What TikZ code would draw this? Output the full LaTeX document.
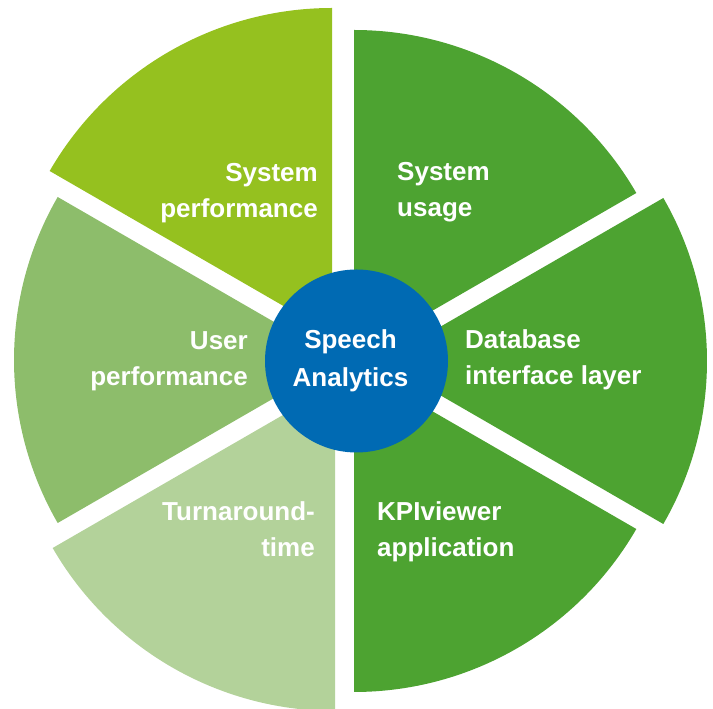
\documentclass[tikz,border=0pt]{standalone}
\usepackage{fontspec}
\setmainfont{Liberation Sans}
\definecolor{cSysPerf}{HTML}{95C11F}
\definecolor{cGreen}{HTML}{4DA331}
\definecolor{cUser}{HTML}{8DBD6B}
\definecolor{cTurn}{HTML}{B3D29A}
\definecolor{cBlue}{HTML}{006AB3}
\tikzset{
  sector/.style={draw=none},
  lbl/.style={text=white, inner sep=0pt, font={\fontsize{26pt}{36.5pt}\selectfont\bfseries}},
  hub/.style={circle, fill=cBlue, minimum size=183pt, inner sep=0pt, text=white, align=center,
    font={\fontsize{26pt}{38pt}\selectfont\bfseries}}
}
\begin{document}
\begin{tikzpicture}[x=1pt,y=1pt]
\useasboundingbox (0,0) rectangle (713,709);
\def\R{326}
% sectors
\fill[sector, cSysPerf] (332,375) -- ++(90:\R) arc[start angle=90, end angle=150, radius=\R] -- cycle;
\fill[sector, cGreen] (354,353) -- ++(30:\R) arc[start angle=30, end angle=90, radius=\R] -- cycle;
\fill[sector, cGreen] (381,348) -- ++(-30:\R) arc[start angle=-30, end angle=30, radius=\R] -- cycle;
\fill[sector, cGreen] (354,343) -- ++(-90:\R) arc[start angle=-90, end angle=-30, radius=\R] -- cycle;
\fill[sector, cTurn] (335,324) -- ++(-150:\R) arc[start angle=-150, end angle=-90, radius=\R] -- cycle;
\fill[sector, cUser] (340,349) -- ++(150:\R) arc[start angle=150, end angle=210, radius=\R] -- cycle;
% hub
\node[hub] (hub) at (356.5,348) {\hspace*{-12pt}\raisebox{-3pt}{\parbox{160pt}{\centering Speech\\Analytics}}};
% labels (anchor at baseline of last line)
\node[lbl, anchor=base east, align=right] (sysperf) at (318,491) {System\\performance};
\node[lbl, anchor=base west, align=left] (sysusage) at (397,492) {System\\usage};
\node[lbl, anchor=base west, align=left] (db) at (465,324) {Database\\interface layer};
\node[lbl, anchor=base east, align=right] (user) at (248,323) {User\\performance};
\node[lbl, anchor=base east, align=right] (turn) at (315,152) {Turnaround-\\time};
\node[lbl, anchor=base west, align=left] (kpi) at (377,152) {KPIviewer\\application};
\end{tikzpicture}
\end{document}
